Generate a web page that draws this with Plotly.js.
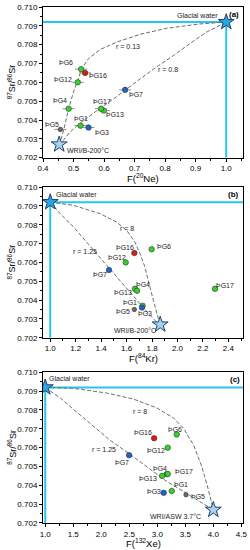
<!DOCTYPE html>
<html><head><meta charset="utf-8">
<script src="https://cdn.plot.ly/plotly-3.0.1.min.js"></script>
<style>html,body{margin:0;padding:0;background:#fff}#chart{width:250px;height:550px}</style>
</head><body><div id="chart"></div>
<script>
// ---------- DATA ----------
const samples = ["ÞG1","ÞG3","ÞG4","ÞG5","ÞG6","ÞG7","ÞG12","ÞG13","ÞG16","ÞG17"];
const groups  = ["green","blue","green","gray","green","blue","green","green","red","green"];
const srRatio = [0.7037,0.7036,0.7046,0.7035,0.7067,0.7056,0.7060,0.7045,0.7065,0.7046];
const fNe     = [0.523,0.549,0.484,0.457,0.525,0.669,0.514,0.599,0.538,0.590];
const fKr     = [1.726,1.721,1.666,1.661,1.797,1.462,1.593,1.682,1.661,2.295];
const fXe     = [3.258,3.115,3.170,3.513,3.347,2.497,3.187,3.086,2.943,3.187];

const glacial = {name:"Glacial water", sr:0.7092, fNe:1.0, fKr:1.0, fXe:1.0};
const wriB   = {name:"WRI/B-200°C", sr:0.7027, fNe:0.453, fKr:1.864};
const wriASW = {name:"WRI/ASW 3.7°C", sr:0.7027, fXe:4.0};

// mixing curves
const aCurve013X = [0.453,0.4675,0.484,0.500,0.514,0.527,0.549,0.587,0.642,0.718,0.805,0.914,1.0];
const aCurve013Y = [0.70265,0.70346,0.70461,0.70549,0.70611,0.70673,0.70726,0.70774,0.70814,0.70855,0.70887,0.70910,0.7092];
const aCurve08X  = [0.453,0.489,0.523,0.555,0.590,0.631,0.669,0.718,0.772,0.827,0.881,0.936,1.0];
const aCurve08Y  = [0.70265,0.70337,0.70385,0.70426,0.70466,0.70512,0.70560,0.70618,0.70682,0.70742,0.70806,0.70867,0.7092];

const bCurve8X   = [1.0,1.183,1.392,1.522,1.601,1.666,1.705,1.744,1.783,1.823,1.864];
const bCurve8Y   = [0.7092,0.70903,0.70859,0.70814,0.70770,0.70708,0.70647,0.70576,0.70470,0.70364,0.70263];
const bCurve125X = [1.0,1.078,1.183,1.353,1.462,1.548,1.627,1.705,1.783,1.864];
const bCurve125Y = [0.7092,0.70859,0.70788,0.70655,0.70567,0.70505,0.70443,0.70382,0.70320,0.70263];

const cCurve8X   = [1.0,1.505,2.099,2.575,2.990,3.288,3.466,3.644,3.793,3.912,4.0];
const cCurve8Y   = [0.7092,0.70915,0.70890,0.70858,0.70811,0.70758,0.70704,0.70616,0.70501,0.70377,0.7027];
const cCurve125X = [1.0,1.267,1.564,1.862,2.159,2.497,2.812,3.169,3.513,3.763,4.0];
const cCurve125Y = [0.7092,0.70864,0.70788,0.70713,0.70639,0.70568,0.70497,0.70421,0.70359,0.70315,0.7027];

const panelTags = ["(a)","(b)","(c)"];
const xTitles = ["F(<sup>20</sup>Ne)","F(<sup>84</sup>Kr)","F(<sup>132</sup>Xe)"];
const yTitle = "<sup>87</sup>Sr/<sup>86</sup>Sr";
const rLabels = {a:["r = 0.13","r = 0.8"], b:["r = 8","r = 1.25"], c:["r = 8","r = 1.25"]};

// ---------- STYLE ----------
const colorMap = {green:"#33d42a", blue:"#1e63c8", red:"#e01818", gray:"#6a6a6a"};
const FONT = "Liberation Sans, Arial, sans-serif";
const dashStyle = {color:"#6e6e6e", width:1, dash:"4px,2px"};

// label offsets in px (dx,dy) per panel (screen y down)
const offA = {"ÞG1":[0,-7],"ÞG3":[13,5],"ÞG4":[-9,-8],"ÞG5":[-8,-5],"ÞG6":[-15,-7],"ÞG7":[11,5],"ÞG12":[-15,-3],"ÞG13":[11,4],"ÞG16":[13,3],"ÞG17":[1,-7]};
const offB = {"ÞG1":[-13,-3],"ÞG3":[3,6],"ÞG4":[8,-4],"ÞG5":[-11,2],"ÞG6":[12,-3],"ÞG7":[-9,5],"ÞG12":[-9,-5],"ÞG13":[-14,2],"ÞG16":[-9,-6],"ÞG17":[10,-3]};
const offC = {"ÞG1":[9,-6],"ÞG3":[-10,-1],"ÞG4":[-7,-6],"ÞG5":[12,2],"ÞG6":[-2,-5],"ÞG7":[-7,7],"ÞG12":[-12,3],"ÞG13":[-14,3],"ÞG16":[-11,-6],"ÞG17":[16,-3]};

const traces = [];
function curve(x,y,xa,ya){traces.push({x:x,y:y,xaxis:xa,yaxis:ya,mode:"lines",line:dashStyle,hoverinfo:"skip",showlegend:false});}
function points(xs,xa,ya,err){
  samples.forEach((s,i)=>{
    const t = {x:[xs[i]],y:[srRatio[i]],xaxis:xa,yaxis:ya,mode:"markers",showlegend:false,
      marker:{size:groups[i]==="gray"?4.5:5.5,color:colorMap[groups[i]],line:{color:"#333",width:0.6}}};
    if(err){t.error_x={type:"constant",value:0.02,color:"#777",thickness:0.8,width:0};
            t.error_y={type:"constant",value:0.00012,color:"#777",thickness:0.8,width:0};}
    traces.push(t);
  });
}
function star(x,y,xa,ya,fill,sz){traces.push({x:[x],y:[y],xaxis:xa,yaxis:ya,mode:"markers",showlegend:false,
  marker:{symbol:"star",size:sz,color:fill,line:{color:"#1d3f6e",width:1}}});}

curve(aCurve013X,aCurve013Y,"x","y");
curve(aCurve08X,aCurve08Y,"x","y");
points(fNe,"x","y",true);
star(glacial.fNe,glacial.sr,"x","y","#2aa7e2",12);
star(wriB.fNe,wriB.sr,"x","y","#a9d3ec",12);
curve(bCurve8X,bCurve8Y,"x2","y2");
curve(bCurve125X,bCurve125Y,"x2","y2");
points(fKr,"x2","y2",false);
star(glacial.fKr,glacial.sr,"x2","y2","#2aa7e2",12);
star(wriB.fKr,wriB.sr,"x2","y2","#a9d3ec",12);
curve(cCurve8X,cCurve8Y,"x3","y3");
curve(cCurve125X,cCurve125Y,"x3","y3");
points(fXe,"x3","y3",false);
star(glacial.fXe,glacial.sr,"x3","y3","#2aa7e2",12);
star(wriASW.fXe,wriASW.sr,"x3","y3","#a9d3ec",12);

const cyan = {color:"#27c6f0", width:2};
const shapes = [
  {type:"line",xref:"x",yref:"y",x0:0.4,x1:glacial.fNe,y0:glacial.sr,y1:glacial.sr,line:cyan,layer:"below"},
  {type:"line",xref:"x",yref:"y",x0:glacial.fNe,x1:glacial.fNe,y0:0.702,y1:glacial.sr,line:cyan,layer:"below"},
  {type:"line",xref:"x2",yref:"y2",x0:glacial.fKr,x1:2.515,y0:glacial.sr,y1:glacial.sr,line:cyan,layer:"below"},
  {type:"line",xref:"x2",yref:"y2",x0:glacial.fKr,x1:glacial.fKr,y0:0.702,y1:glacial.sr,line:cyan,layer:"below"},
  {type:"line",xref:"x3",yref:"y3",x0:glacial.fXe,x1:4.53,y0:glacial.sr,y1:glacial.sr,line:cyan,layer:"below"},
  {type:"line",xref:"x3",yref:"y3",x0:glacial.fXe,x1:glacial.fXe,y0:0.702,y1:glacial.sr,line:cyan,layer:"below"}
];

const ann = [];
const lf = {family:FONT,size:7,color:"#222"};
function labels(xs,off,xr,yr){
  samples.forEach((s,i)=>{ann.push({x:xs[i],y:srRatio[i],xref:xr,yref:yr,text:s,showarrow:false,font:lf,
    xshift:off[s][0],yshift:-off[s][1]});});
}
labels(fNe,offA,"x","y"); labels(fKr,offB,"x2","y2"); labels(fXe,offC,"x3","y3");
function txt(x,y,xr,yr,t,xa,opts){ann.push(Object.assign({x:x,y:y,xref:xr,yref:yr,text:t,showarrow:false,font:lf,xanchor:xa||"center"},opts||{}));}
txt(glacial.fNe,glacial.sr,"x","y",glacial.name,"right",{xshift:-6,yshift:7});
txt(wriB.fNe,wriB.sr,"x","y",wriB.name,"left",{xshift:6,yshift:-6});
txt(0.679,0.70788,"x","y",rLabels.a[0]);
txt(0.81,0.70670,"x","y",rLabels.a[1]);
txt(1.05,0.7096,"x","y","<b>"+panelTags[0]+"</b>","right",{font:{family:FONT,size:8,color:"#000"}});
txt(glacial.fKr,glacial.sr,"x2","y2",glacial.name,"left",{xshift:4,yshift:8});
txt(wriB.fKr,wriB.sr,"x2","y2",wriB.name,"right",{xshift:-2,yshift:-6});
txt(1.603,0.70780,"x2","y2",rLabels.b[0]);
txt(1.274,0.70656,"x2","y2",rLabels.b[1]);
txt(2.50,0.7096,"x2","y2","<b>"+panelTags[1]+"</b>","right",{font:{family:FONT,size:8,color:"#000"}});
txt(glacial.fXe,glacial.sr,"x3","y3",glacial.name,"left",{xshift:2,yshift:9});
txt(wriASW.fXe,wriASW.sr,"x3","y3",wriASW.name,"right",{xshift:-10,yshift:-7});
txt(2.693,0.70793,"x3","y3",rLabels.c[0]);
txt(2.04,0.70589,"x3","y3",rLabels.c[1]);
txt(4.51,0.7096,"x3","y3","<b>"+panelTags[2]+"</b>","right",{font:{family:FONT,size:8,color:"#000"}});

// axis titles as annotations placed relative to each panel's domain
const axisSuffix = ["","2","3"];
const xTitleShift = [-0.136,-0.132,-0.134];
axisSuffix.forEach((s,i)=>{
  ann.push({xref:"x"+s+" domain",yref:"y"+s+" domain",x:0.5,y:xTitleShift[i],yanchor:"middle",xanchor:"center",
    text:xTitles[i],showarrow:false,font:{family:FONT,size:9.5,color:"#000"}});
  ann.push({xref:"x"+s+" domain",yref:"y"+s+" domain",x:-0.155,y:0.5,xanchor:"center",yanchor:"middle",textangle:-90,
    text:yTitle,showarrow:false,font:{family:FONT,size:9,color:"#000"}});
});

function xax(range,dtick,minor,anchor){
  return {range:range,dtick:dtick,tick0:0,tickformat:".1f",anchor:anchor,showline:true,mirror:true,linecolor:"#000",linewidth:1,
    ticks:"outside",ticklen:3,tickcolor:"#000",tickfont:{family:FONT,size:8,color:"#000"},showgrid:false,zeroline:false,
    minor:{dtick:minor,ticks:"outside",ticklen:2,tickcolor:"#000",showgrid:false}};
}
function yax(domain,anchor){
  return {domain:domain,anchor:anchor,range:[0.702,0.710],dtick:0.001,tickformat:".3f",showline:true,mirror:true,linecolor:"#000",linewidth:1,
    ticks:"outside",ticklen:3,tickcolor:"#000",tickfont:{family:FONT,size:8,color:"#000"},showgrid:false,zeroline:false,
    minor:{dtick:0.0005,ticks:"outside",ticklen:2,tickcolor:"#000",showgrid:false}};
}
const layout = {
  width:250,height:550,margin:{l:43,r:7,t:7,b:27},paper_bgcolor:"#fff",plot_bgcolor:"#fff",showlegend:false,
  xaxis:xax([0.4,1.055],0.1,0.05,"y"),
  yaxis:yax([0.708,1.0],"x"),
  xaxis2:xax([0.943,2.515],0.2,0.1,"y2"),
  yaxis2:yax([0.359,0.651],"x2"),
  xaxis3:xax([0.96,4.53],0.5,0.25,"y3"),
  yaxis3:yax([0,0.292],"x3"),
  shapes:shapes, annotations:ann
};
Plotly.newPlot("chart",traces,layout,{staticPlot:true,displayModeBar:false});
</script></body></html>
